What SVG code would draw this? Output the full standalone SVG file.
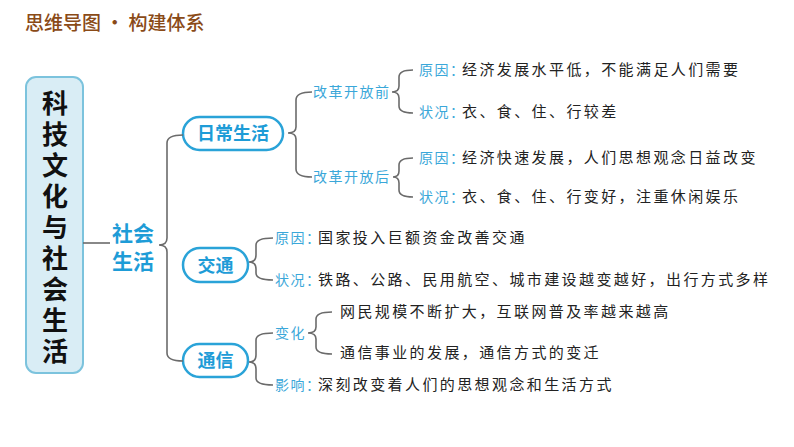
<svg xmlns="http://www.w3.org/2000/svg" width="794" height="447" viewBox="0 0 794 447">
<style>
.title{font-family:"Noto Sans CJK SC","Noto Sans",sans-serif;font-size:19px;fill:#8a4a17;font-weight:500}
.main{font-family:"Noto Sans CJK SC",sans-serif;font-size:26px;font-weight:bold;fill:#111;writing-mode:vertical-rl;letter-spacing:5px}
.hub{font-family:"Noto Sans CJK SC",sans-serif;font-size:21px;font-weight:bold;fill:#1e9cd7}
.node{fill:#fff;stroke:#2aa3d8;stroke-width:2.5}
.nodet{font-family:"Noto Sans CJK SC",sans-serif;font-size:18px;font-weight:bold;fill:#1e9cd7}
.lab{font-family:"Noto Sans CJK SC",sans-serif;font-size:14px;fill:#3aa7d9;letter-spacing:1.5px}
.txt{font-family:"Noto Sans CJK SC",sans-serif;font-size:15px;fill:#222;letter-spacing:2.4px}
.con{fill:none;stroke:#6b6b6b;stroke-width:1.6}
</style>
<rect width="794" height="447" fill="#fff"/>
<text class="title" x="25" y="30">思维导图 • 构建体系</text>

<g id="root">
<rect x="26" y="77" width="57" height="296" rx="10" fill="#d9edf5" stroke="#7cc3dd" stroke-width="2"/>
<text class="main" x="55" y="90">科技文化与社会生活</text>
</g>

<g id="hub">
<text class="hub" x="112" y="241">社会</text>
<text class="hub" x="112" y="269">生活</text>
</g>

<g id="n-daily">
<rect class="node" x="183" y="117" width="100" height="33" rx="16.5"/>
<text class="nodet" x="233" y="140" text-anchor="middle">日常生活</text>
</g>
<g id="n-traffic">
<rect class="node" x="183" y="248" width="65" height="34" rx="17"/>
<text class="nodet" x="215.5" y="271.5" text-anchor="middle">交通</text>
</g>
<g id="n-comm">
<rect class="node" x="183" y="344" width="65" height="33" rx="16.5"/>
<text class="nodet" x="215.5" y="367" text-anchor="middle">通信</text>
</g>

<g id="labels">
<text class="lab" x="313" y="97">改革开放前</text>
<text class="lab" x="313" y="182">改革开放后</text>
<text class="lab" x="419" y="75">原因：</text>
<text class="lab" x="419" y="117">状况：</text>
<text class="lab" x="419" y="163">原因：</text>
<text class="lab" x="419" y="202">状况：</text>
<text class="lab" x="275" y="243">原因：</text>
<text class="lab" x="275" y="285">状况：</text>
<text class="lab" x="275" y="338">变化</text>
<text class="lab" x="275" y="390">影响：</text>
</g>

<g id="texts">
<text class="txt" x="462" y="75">经济发展水平低，不能满足人们需要</text>
<text class="txt" x="462" y="117">衣、食、住、行较差</text>
<text class="txt" x="462" y="163">经济快速发展，人们思想观念日益改变</text>
<text class="txt" x="462" y="202">衣、食、住、行变好，注重休闲娱乐</text>
<text class="txt" x="318" y="243">国家投入巨额资金改善交通</text>
<text class="txt" x="318" y="285">铁路、公路、民用航空、城市建设越变越好，出行方式多样</text>
<text class="txt" x="340" y="317">网民规模不断扩大，互联网普及率越来越高</text>
<text class="txt" x="340" y="358">通信事业的发展，通信方式的变迁</text>
<text class="txt" x="318" y="390">深刻改变着人们的思想观念和生活方式</text>
</g>

<g id="connectors">
<path class="con" d="M83 243 H110"/>
<path class="con" d="M183 135 Q167 135 167 143 V238 Q167 245 159 245 Q167 245 167 252 V353 Q167 361 183 361"/>
<path class="con" d="M312 92 Q296 92 296 100 V127 Q296 133 288 133 Q296 133 296 139 V169 Q296 177 312 177"/>
<path class="con" d="M413 70 Q399 70 399 77 V86 Q399 92 392 92 Q399 92 399 98 V106 Q399 113 413 113"/>
<path class="con" d="M413 158 Q399 158 399 165 V171 Q399 177 393 177 Q399 177 399 183 V190 Q399 197 413 197"/>
<path class="con" d="M273 238 Q256 238 256 245 V255 Q256 262 249 262 Q256 262 256 269 V273 Q256 280 273 280"/>
<path class="con" d="M273 333 Q256 333 256 340 V355 Q256 362 249 362 Q256 362 256 369 V378 Q256 385 273 385"/>
<path class="con" d="M332 312 Q316 312 316 319 V327 Q316 333 308 333 Q316 333 316 339 V347 Q316 354 332 354"/>
</g>
</svg>
